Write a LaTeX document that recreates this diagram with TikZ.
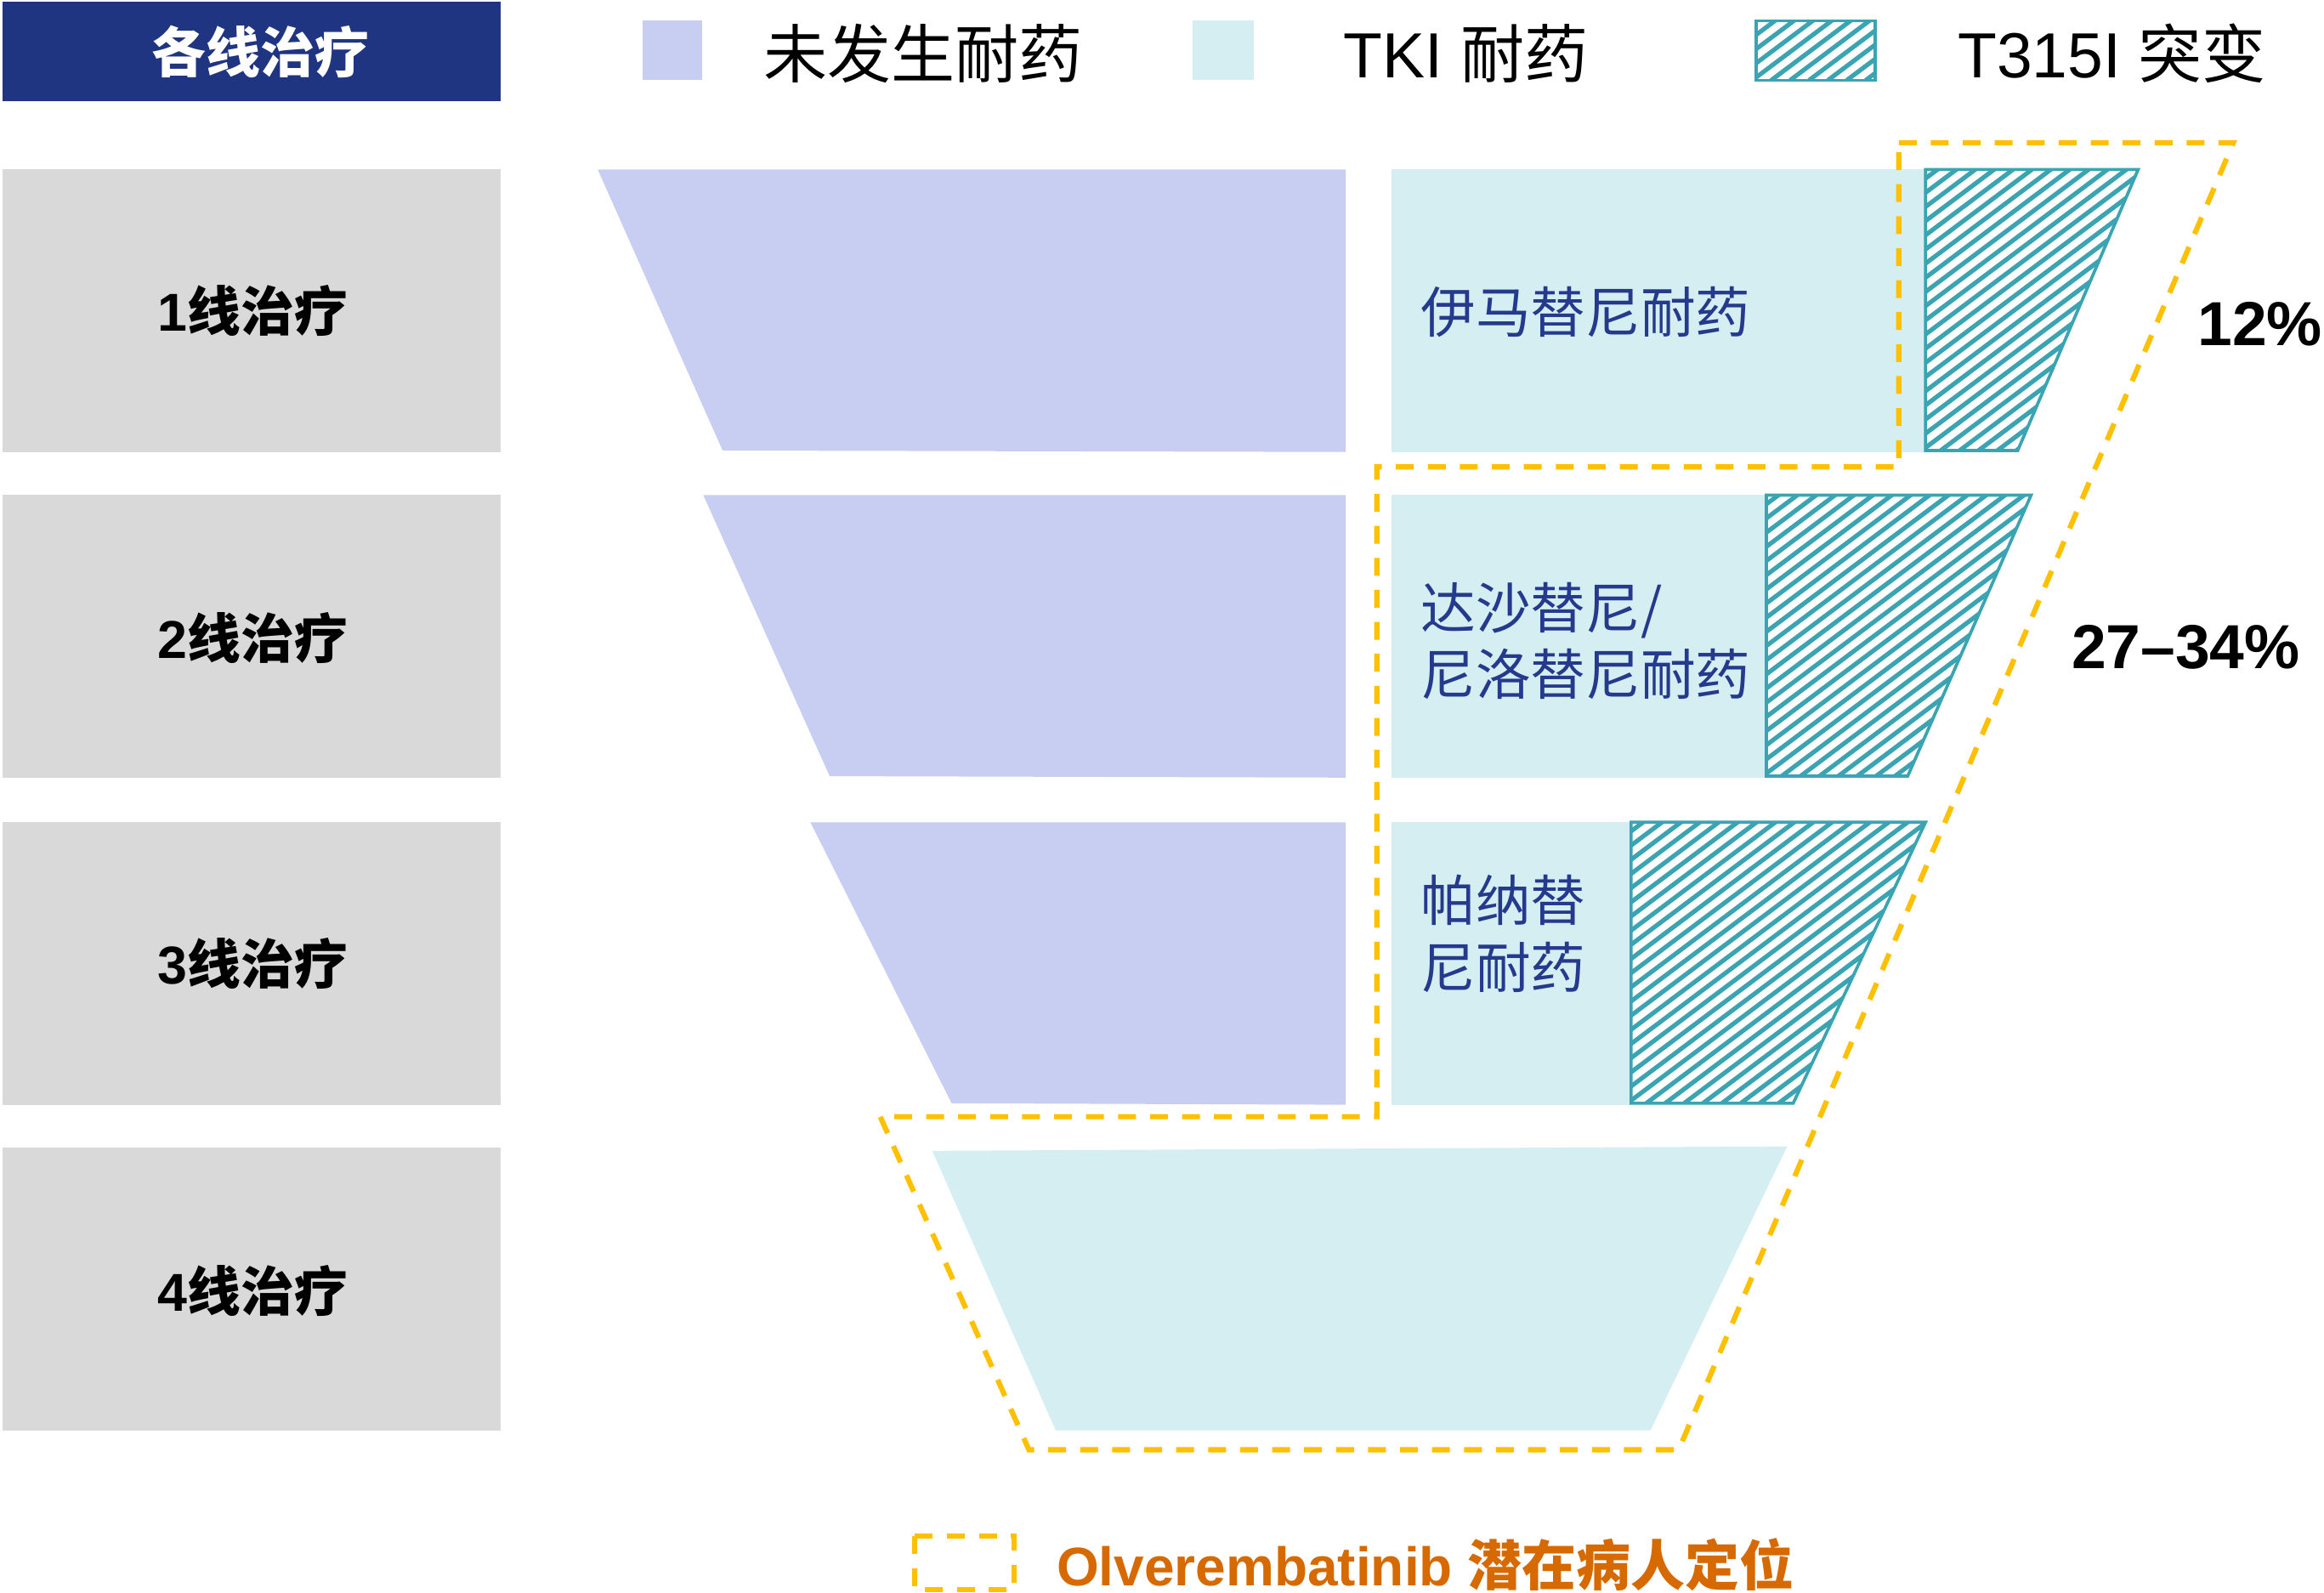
\documentclass[tikz,border=0pt]{standalone}
\usepackage{fontspec}
\setmainfont{Liberation Sans}
\newfontfamily\cjk{Noto Sans CJK SC}
\definecolor{hdrblue}{RGB}{31,53,130}
\definecolor{lav}{RGB}{199,206,242}
\definecolor{lteal}{RGB}{213,238,241}
\definecolor{hteal}{RGB}{58,164,178}
\definecolor{gbox}{RGB}{217,217,217}
\definecolor{ylw}{RGB}{255,192,0}
\definecolor{org}{RGB}{214,105,0}
\definecolor{lblue}{RGB}{37,58,140}
\begin{document}
\begin{tikzpicture}[x=0.01cm,y=-0.01cm,
  hatchfill/.style={draw=hteal, line width=0.6pt, fill=white, path picture={
     \path (path picture bounding box.south west) coordinate (hsw);
     \foreach \k in {0,...,60} {\draw[hteal, line width=0.85pt] ([xshift={\k*0.127cm-3.2cm}]hsw) -- ++(400,-300);}
  }},
  lavfill/.style={fill=lav, draw=none},
  tealfill/.style={fill=lteal, draw=none},
  graybox/.style={fill=gbox, draw=none},
  ydash/.style={draw=ylw, line width=1pt, dash pattern=on 0.12cm off 0.095cm},
  legtext/.style={anchor=west, inner sep=0pt, font=\fontsize{12.2}{14}\selectfont},
  rowtext/.style={inner sep=0pt, font=\fontsize{10.2}{12}\selectfont\bfseries},
  druglabel/.style={anchor=west, inner sep=0pt, align=left, text=lblue, font=\fontsize{10.5}{12.8}\selectfont\cjk},
  pcttext/.style={inner sep=0pt, font=\fontsize{11.9}{14}\selectfont\bfseries}
]
\useasboundingbox (0,0) rectangle (1563,1071);

% header
\fill[hdrblue] (2,1) rectangle (337,68);
\node[inner sep=0pt, text=white, font=\fontsize{10.4}{12}\selectfont\cjk\bfseries] (hdr) at (175,35) {各线治疗};

% legend
\fill[lav] (432,14) rectangle (472,54);
\node[legtext] (leg1) at (513,36) {\cjk 未发生耐药};
\fill[lteal] (802,14) rectangle (843,54);
\node[legtext] (leg2) at (903,36) {TKI \cjk 耐药};
\path[hatchfill] (1181,14) rectangle (1261,54);
\node[legtext] (leg3) at (1316,36) {T315I \cjk 突变};

% row label boxes
\fill[gbox] (2,114) rectangle (337,304);
\fill[gbox] (2,333) rectangle (337,523);
\fill[gbox] (2,553) rectangle (337,743);
\fill[gbox] (2,772) rectangle (337,962);
\node[rowtext] (r1) at (170,209) {1\cjk 线治疗};
\node[rowtext] (r2) at (170,429) {2\cjk 线治疗};
\node[rowtext] (r3) at (170,648) {3\cjk 线治疗};
\node[rowtext] (r4) at (170,868) {4\cjk 线治疗};

% lavender funnel parts
\path[lavfill] (402,114) -- (905,114) -- (905,304) -- (486,303) -- cycle;
\path[lavfill] (473,333) -- (905,333) -- (905,523) -- (558,522) -- cycle;
\path[lavfill] (545,553) -- (905,553) -- (905,743) -- (640,742) -- cycle;

% TKI resistance parts
\path[tealfill] (936,114) rectangle (1295,304);
\path[tealfill] (936,333) rectangle (1188,523);
\path[tealfill] (936,553) rectangle (1097,743);
\path[tealfill] (627,774) -- (1202,771) -- (1110,962) -- (710,962) -- cycle;

% T315I hatched parts
\path[hatchfill] (1295,114) -- (1438,114) -- (1357,303) -- (1295,303) -- cycle;
\path[hatchfill] (1188,333) -- (1366,333) -- (1283,522) -- (1188,522) -- cycle;
\path[hatchfill] (1097,553) -- (1295,553) -- (1206,742) -- (1097,742) -- cycle;

% drug labels
\node[druglabel] (d1) at (955,210) {伊马替尼耐药};
\node[druglabel] (d2) at (955,431) {达沙替尼/\\尼洛替尼耐药};
\node[druglabel] (d3) at (955,628) {帕纳替\\尼耐药};

% dashed yellow outline
\draw[ydash] (1277,96) -- (1502,96) -- (1129,975) -- (692,975) -- (592,751) -- (926,751) -- (926,314) -- (1277,314) -- cycle;

% percentages
\node[pcttext] (p1) at (1520,218) {12\%};
\node[pcttext] (p2) at (1470,435) {27–34\%};

% bottom legend
\draw[ydash] (615,1033) rectangle (682,1069);
\node[anchor=west, inner sep=0pt, text=org, font=\fontsize{10.4}{12}\selectfont\bfseries] (bl) at (710,1052) {Olverembatinib \cjk 潜在病人定位};
\end{tikzpicture}
\end{document}
